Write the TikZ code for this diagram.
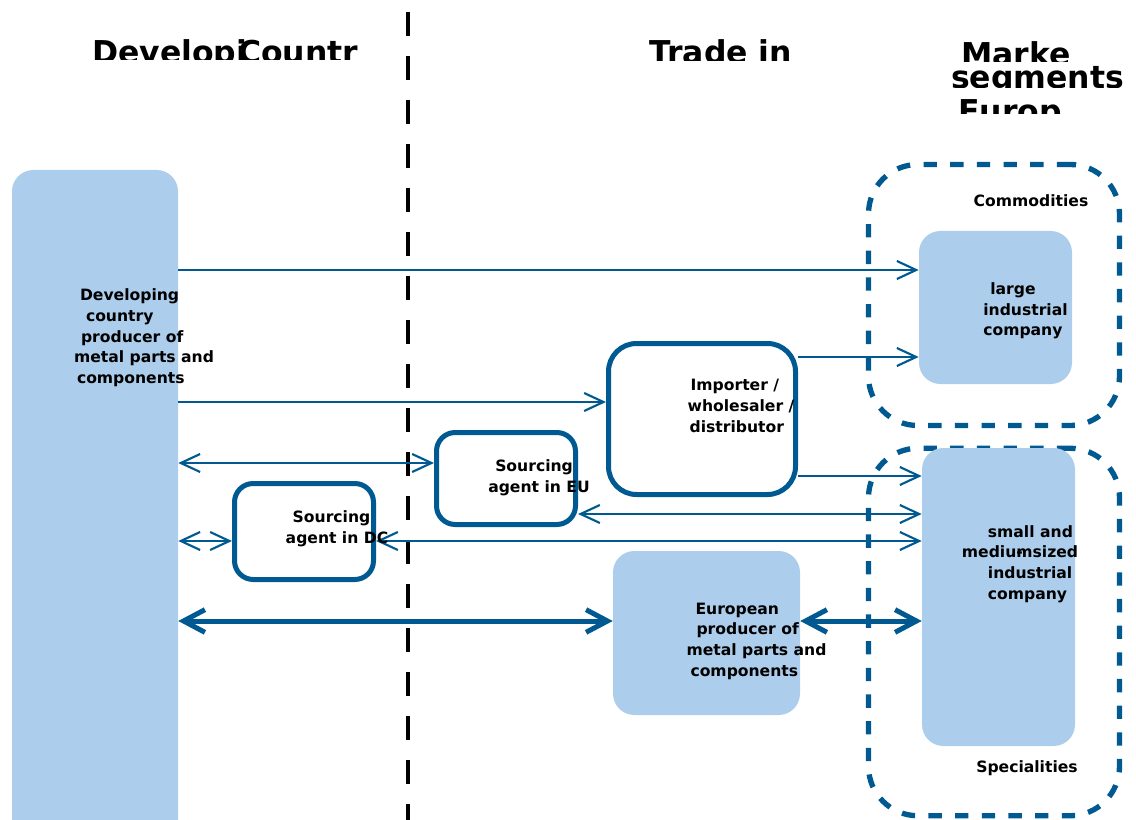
\documentclass[tikz,border=0pt]{standalone}
\usepackage{fontspec}
\setmainfont{DejaVu Sans}
\usetikzlibrary{arrows.meta}
\definecolor{dblue}{RGB}{0,90,145}
\definecolor{lblue}{RGB}{172,206,236}
\begin{document}
\begin{tikzpicture}[x=0.75pt,y=-0.75pt,
  txt/.style={font=\fontsize{11.7}{15.5}\selectfont\bfseries, align=left, inner sep=0pt, text=black},
  head/.style={font=\fontsize{23.6}{28}\selectfont\bfseries, inner sep=0pt, anchor=base west, text=black},
  fillbox/.style={fill=lblue, draw=none, rounded corners=16pt, inner sep=0pt},
  edgebox/.style={draw=dblue, line width=3.75pt, fill=white, rounded corners=18pt, inner sep=0pt},
  group/.style={draw=dblue, line width=4pt, dash pattern=on 10pt off 10pt, rounded corners=37pt, inner sep=0pt},
  conn/.style={draw=dblue, line width=1.6pt, -{Straight Barb[length=14.5pt,width=13.5pt]}},
  dconn/.style={draw=dblue, line width=1.6pt, {Straight Barb[length=14.5pt,width=13.5pt]}-{Straight Barb[length=14.5pt,width=13.5pt]}},
  tconn/.style={draw=dblue, line width=3.75pt, {Straight Barb[length=16pt,width=17pt]}-{Straight Barb[length=16pt,width=17pt]}},
  divider/.style={draw=black, line width=3pt, dash pattern=on 18pt off 15pt}
]
\useasboundingbox (0,0) rectangle (1136,820);

% headers (clipped as in the reference)
\begin{scope}
  \clip (80,30) rectangle (248,60);
  \node[head] (h1) at (92,64) {Developing};
\end{scope}
\begin{scope}
  \clip (235,30) rectangle (380,60);
  \node[head] (h2) at (238,64) {Countr};
\end{scope}
\begin{scope}
  \clip (630,30) rectangle (820,61);
  \node[head] (h3) at (649,64) {Trade in};
\end{scope}
\begin{scope}
  \clip (940,30) rectangle (1136,62);
  \node[head] (h4) at (961,66) {Marke};
\end{scope}
\begin{scope}
  \clip (940,62) rectangle (1136,88);
  \node[head] (h5) at (951,89) {segments};
\end{scope}
\begin{scope}
  \clip (940,88) rectangle (1136,114);
  \node[head] (h6) at (958,123) {Europ};
\end{scope}

% divider
\coordinate (vtop) at (408,12);
\coordinate (vbot) at (408,820);
\draw[divider] (vtop) -- (vbot);

% groups
\node[group, minimum width=188.25pt, minimum height=195.75pt] (comm) at (994,295) {};
\node[group, minimum width=188.25pt, minimum height=275.6pt] (spec) at (994,632) {};

% filled boxes
\node[fillbox, minimum width=124.5pt, minimum height=510pt] (dcp) at (95,510) {};
\node[fillbox, minimum width=114.75pt, minimum height=114.75pt] (large) at (995.5,307.5) {};
\node[fillbox, minimum width=114.75pt, minimum height=223.5pt] (sme) at (998.5,597) {};
\node[fillbox, minimum width=140.25pt, minimum height=123pt] (eup) at (706.5,633) {};

% bordered boxes
\node[edgebox, minimum width=140.25pt, minimum height=113.25pt, rounded corners=21pt] (imp) at (702,419) {};
\node[edgebox, minimum width=104.25pt, minimum height=69pt, rounded corners=14pt] (seu) at (506,478.5) {};
\node[edgebox, minimum width=104.25pt, minimum height=72pt, rounded corners=14pt] (sdc) at (304,531.5) {};

% level coordinates
\coordinate (y270) at (0,270);
\coordinate (y357) at (0,357);
\coordinate (y402) at (0,402);
\coordinate (y463) at (0,463);
\coordinate (y476) at (0,476);
\coordinate (y514) at (0,514);
\coordinate (y541) at (0,541);
\coordinate (y621) at (0,621);

% connectors
\draw[conn] (dcp.east |- y270) -- (large.west |- y270);
\draw[conn] (dcp.east |- y402) -- (imp.west |- y402);
\draw[dconn] (dcp.east |- y463) -- (seu.west |- y463);
\draw[dconn] (dcp.east |- y541) -- (sdc.west |- y541);
\draw[dconn] (sdc.east |- y541) -- (sme.west |- y541);
\draw[dconn] (seu.east |- y514) -- (sme.west |- y514);
\draw[conn] (imp.east |- y357) -- (large.west |- y357);
\draw[conn] (imp.east |- y476) -- (sme.west |- y476);
\draw[tconn] (dcp.east |- y621) -- (eup.west |- y621);
\draw[tconn] (eup.east |- y621) -- (sme.west |- y621);

% texts
\node[txt] (tdcp) at (144,338) {\hspace*{4.5pt}Developing\\\hspace*{9pt}country\\\hspace*{5.25pt}producer of\\metal parts and\\\hspace*{2.25pt}components};
\node[txt] (tlarge) at (1025.5,311) {\hspace*{5.25pt}large\\industrial\\company};
\node[txt] (timp) at (741,406) {\hspace*{2.25pt}Importer /\\wholesaler /\\\hspace*{1.5pt}distributor};
\node[txt] (tseu) at (539,478) {\hspace*{5.25pt}Sourcing\\agent in EU};
\node[txt] (tsdc) at (337,529) {\hspace*{5.25pt}Sourcing\\agent in DC};
\node[txt] (teup) at (756.5,641) {\hspace*{6.75pt}European\\\hspace*{7.5pt}producer of\\metal parts and\\\hspace*{3pt}components};
\node[txt] (tsme) at (1020,564) {\hspace*{19.5pt}small and\\mediu\rlap{-}msized\\\hspace*{19.5pt}industrial\\\hspace*{19.5pt}company};
\node[txt] (tcomm) at (1031,201) {Commodities};
\node[txt] (tspec) at (1027,768) {Specialities};
\end{tikzpicture}
\end{document}
